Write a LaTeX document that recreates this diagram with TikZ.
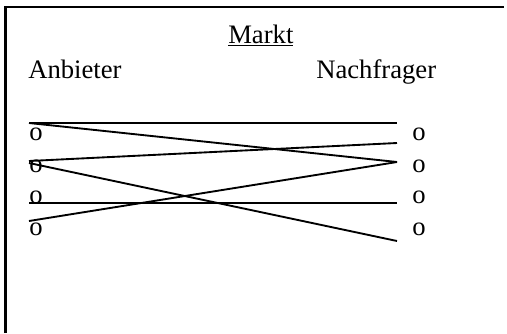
\documentclass[tikz,border=0pt]{standalone}
\usepackage{fontspec}
\setmainfont{Liberation Serif}

\begin{document}
\begin{tikzpicture}[x=0.75pt, y=-0.75pt,
    every node/.style={inner sep=0pt, anchor=base west, font=\fontsize{20}{24}\selectfont},
    link/.style={line width=1.4pt}]
      \fill[white] (0,0) rectangle (507,333);
      \useasboundingbox (0,0) rectangle (507,333);
      \draw[line width=2pt] (5.5,333) -- (5.5,7) -- (504,7);

      \node (markt) at (228,43) {\underline{Markt}};
      \node (anbieter) at (28,78) {Anbieter};
      \node (nachfrager) at (316,78) {Nachfrager};

      \foreach \y [count=\i] in {140, 172, 203, 235} {
        \node (a\i) at (29,\y) {o};
        \node (n\i) at (412,\y) {o};
      }

      \coordinate (l1) at (29,123);
      \coordinate (l2) at (29,161);
      \coordinate (l2b) at (29,163);
      \coordinate (l3) at (29,203);
      \coordinate (l4) at (29,221);
      \coordinate (r1) at (397,123);
      \coordinate (r1b) at (397,143);
      \coordinate (r2) at (397,162);
      \coordinate (r3) at (397,203);
      \coordinate (r4) at (397,241);

      \draw[link] (l1) -- (r1);
      \draw[link] (l1) -- (r2);
      \draw[link] (l2) -- (r1b);
      \draw[link] (l2b) -- (r4);
      \draw[link] (l3) -- (r3);
      \draw[link] (l4) -- (r2);
\end{tikzpicture}
\end{document}
